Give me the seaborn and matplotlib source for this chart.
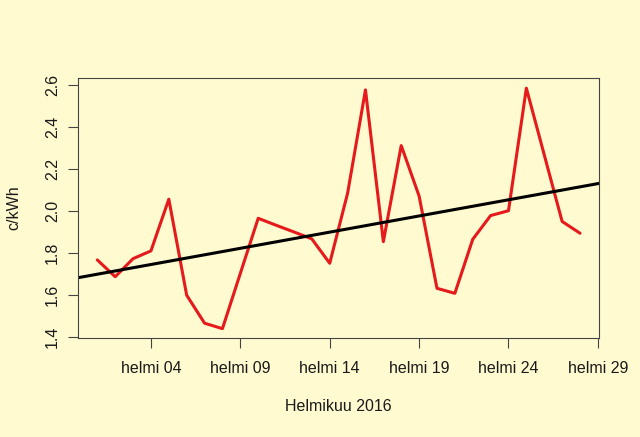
import matplotlib
matplotlib.use("Agg")
import matplotlib.pyplot as plt
import seaborn as sns
import pandas as pd
import numpy as np

# Day of February 2016 and price (c/kWh)
days = list(range(1, 29))
price = [1.768, 1.688, 1.774, 1.811, 2.057, 1.600, 1.467, 1.441, 1.704, 1.966,
         1.933, 1.901, 1.868, 1.752, 2.085, 2.577, 1.855, 2.312, 2.072, 1.633,
         1.609, 1.866, 1.979, 2.002, 2.585, 2.268, 1.951, 1.895]
tick_days = [4, 9, 14, 19, 24, 29]
tick_labels = ["helmi 04", "helmi 09", "helmi 14", "helmi 19", "helmi 24", "helmi 29"]
y_ticks = [1.4, 1.6, 1.8, 2.0, 2.2, 2.4, 2.6]
y_tick_labels = ["1.4", "1.6", "1.8", "2.0", "2.2", "2.4", "2.6"]

df = pd.DataFrame({"day": days, "price": price})

sns.set_theme(style="white")
bg = "#FFFACF"
plt.rcParams["font.family"] = ["Liberation Sans", "DejaVu Sans"]
plt.rcParams["font.size"] = 11.5

fig = plt.figure(figsize=(6.4, 4.37), dpi=100, facecolor=bg)
ax = fig.add_axes([78 / 640, 1 - 337.7 / 437, (599.3 - 78) / 640, (337.7 - 78.3) / 437])
ax.set_facecolor(bg)

ax.set_xlim(-0.08, 29.08)
ax.set_ylim(1.398, 2.632)

sns.lineplot(data=df, x="day", y="price", ax=ax, color="#E41A1C", linewidth=2.2)
sns.regplot(data=df, x="day", y="price", ax=ax, scatter=False, ci=None,
            truncate=False, color="black", line_kws={"linewidth": 2.2})

ax.set_xlim(-0.08, 29.08)
ax.set_ylim(1.398, 2.632)

ax.set_xticks(tick_days)
ax.set_xticklabels(tick_labels, fontsize=11.5, color="#1a1a1a")
ax.set_yticks(y_ticks)
ax.set_yticklabels(y_tick_labels, fontsize=11.5, color="#1a1a1a", rotation=90, va="center")

ax.tick_params(axis="both", direction="out", length=7, width=0.8, color="#444444",
               bottom=True, left=True)
ax.tick_params(axis="x", pad=10)
ax.tick_params(axis="y", pad=6)

for s in ax.spines.values():
    s.set_visible(True)
    s.set_color("#444444")
    s.set_linewidth(0.8)

ax.set_xlabel("Helmikuu 2016", fontsize=11.5, color="#1a1a1a", labelpad=16)
ax.set_ylabel("c/kWh", fontsize=11.5, color="#1a1a1a", labelpad=17)

fig.savefig("out.png", dpi=100, facecolor=bg)
